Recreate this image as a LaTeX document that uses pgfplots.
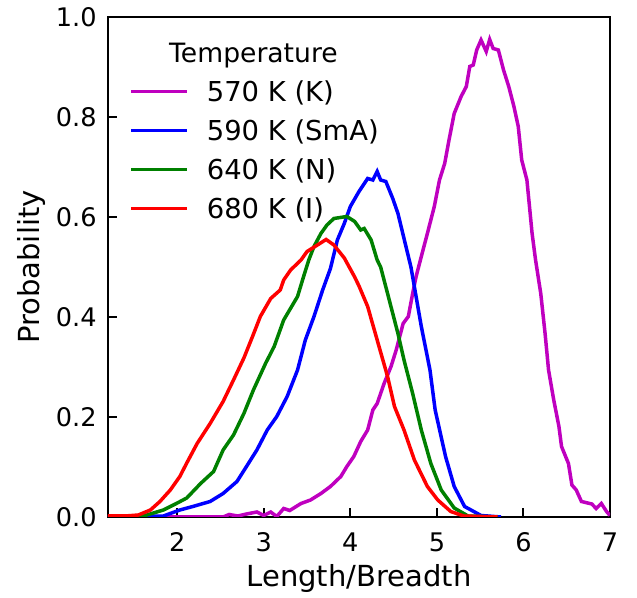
\documentclass[border=0pt]{standalone}
\usepackage{fontspec}
\setmainfont{DejaVu Sans}
\usepackage{pgfplots}
\pgfplotsset{compat=1.18}
\definecolor{mpm}{RGB}{191,0,191}
\definecolor{mpg}{RGB}{0,128,0}
\begin{document}
\begin{tikzpicture}
\begin{axis}[
  scale only axis, width=251pt, height=250pt,
  xmin=1.2, xmax=7, ymin=0, ymax=1,
  xtick={2,3,4,5,6,7}, ytick={0,0.2,0.4,0.6,0.8,1.0},
  /pgf/number format/assume math mode=true,
  tick align=inside, xtick pos=bottom, ytick pos=left,
  major tick length=4.5pt,
  tick style={black, line width=1pt},
  axis line style={line width=1pt},
  ticklabel style={font=\fontsize{12.8}{15}\selectfont, inner sep=0pt},
  xticklabel style={anchor=north, yshift=-7.5pt},
  yticklabel style={anchor=east, xshift=-5.5pt, /pgf/number format/fixed, /pgf/number format/fixed zerofill, /pgf/number format/precision=1},
  xlabel={Length/Breadth}, ylabel={Probability},
  label style={font=\fontsize{14.5}{17}\selectfont, inner sep=0pt},
  xlabel style={at={(rel axis cs:0.5,0)}, anchor=north, yshift=-23.5pt},
  ylabel style={at={(rel axis cs:-0.1365,0.5)}, anchor=base},
  legend cell align=left,
  legend style={at={(rel axis cs:0.0418,0.872)}, anchor=north west, draw=none, fill=none,
    inner sep=0pt, row sep=9.51pt, column sep=9pt,
    cells={anchor=west},
    nodes={inner sep=0pt, text height=9.99pt, text depth=0pt},
    font=\fontsize{13.7}{16.5}\selectfont},
  legend image code/.code={\draw[#1,line width=1.75pt] (0pt,0pt) -- (28pt,0pt);},
  every axis plot/.append style={line width=1.75pt},
]
\addplot[mpm] coordinates {(1.2,0)(2.53,0)(2.6,0.005)(2.7,0.002)(2.8,0.006)(2.92,0.01)(3.0,0.003)(3.08,0.01)(3.15,0.001)(3.23,0.017)(3.3,0.013)(3.43,0.027)(3.54,0.034)(3.66,0.047)(3.77,0.061)(3.89,0.081)(3.96,0.101)(4.04,0.121)(4.12,0.151)(4.20,0.174)(4.26,0.214)(4.31,0.227)(4.39,0.267)(4.47,0.301)(4.53,0.334)(4.61,0.387)(4.67,0.401)(4.72,0.447)(4.76,0.481)(4.82,0.521)(4.89,0.567)(4.97,0.621)(5.03,0.674)(5.09,0.707)(5.14,0.754)(5.20,0.807)(5.28,0.841)(5.34,0.861)(5.38,0.901)(5.42,0.904)(5.46,0.934)(5.51,0.954)(5.57,0.931)(5.61,0.955)(5.65,0.937)(5.71,0.934)(5.77,0.894)(5.83,0.861)(5.89,0.821)(5.94,0.781)(5.98,0.714)(6.04,0.674)(6.10,0.567)(6.14,0.514)(6.20,0.447)(6.25,0.367)(6.29,0.294)(6.35,0.234)(6.41,0.181)(6.44,0.141)(6.52,0.107)(6.56,0.064)(6.61,0.054)(6.67,0.031)(6.79,0.026)(6.84,0.017)(6.90,0.027)(6.96,0.011)(7.0,0.003)};
\addlegendentry{570 K (K)}
\addplot[blue] coordinates {(1.2,0)(1.84,0.002)(2.03,0.014)(2.18,0.021)(2.38,0.031)(2.53,0.047)(2.69,0.071)(2.80,0.101)(2.92,0.134)(3.04,0.174)(3.15,0.201)(3.27,0.241)(3.39,0.294)(3.48,0.354)(3.58,0.401)(3.68,0.454)(3.77,0.497)(3.85,0.554)(3.93,0.587)(4.00,0.621)(4.10,0.651)(4.20,0.677)(4.26,0.674)(4.31,0.691)(4.35,0.674)(4.41,0.671)(4.49,0.637)(4.55,0.607)(4.62,0.557)(4.70,0.50)(4.82,0.381)(4.92,0.294)(4.98,0.214)(5.10,0.121)(5.20,0.061)(5.32,0.021)(5.51,0.003)(5.74,0)};
\addlegendentry{590 K (SmA)}
\addplot[mpg] coordinates {(1.2,0)(1.61,0.002)(1.84,0.014)(1.99,0.027)(2.11,0.038)(2.27,0.067)(2.42,0.091)(2.53,0.134)(2.65,0.164)(2.77,0.207)(2.88,0.254)(3.02,0.307)(3.12,0.341)(3.23,0.394)(3.39,0.441)(3.46,0.481)(3.52,0.514)(3.58,0.541)(3.66,0.567)(3.73,0.584)(3.81,0.597)(3.96,0.601)(4.05,0.591)(4.12,0.574)(4.16,0.577)(4.24,0.554)(4.31,0.514)(4.35,0.50)(4.43,0.447)(4.55,0.367)(4.62,0.314)(4.72,0.247)(4.82,0.174)(4.93,0.107)(5.05,0.054)(5.20,0.018)(5.36,0.002)(5.7,0)};
\addlegendentry{640 K (N)}
\addplot[red] coordinates {(1.2,0.002)(1.4,0.002)(1.55,0.004)(1.69,0.014)(1.80,0.031)(1.92,0.054)(2.03,0.081)(2.11,0.108)(2.23,0.147)(2.38,0.187)(2.53,0.231)(2.65,0.274)(2.77,0.318)(2.87,0.361)(2.96,0.401)(3.08,0.437)(3.19,0.454)(3.23,0.474)(3.31,0.494)(3.43,0.514)(3.50,0.531)(3.62,0.544)(3.72,0.555)(3.81,0.544)(3.93,0.518)(4.05,0.480)(4.10,0.462)(4.20,0.421)(4.31,0.354)(4.43,0.281)(4.51,0.221)(4.62,0.174)(4.74,0.114)(4.89,0.061)(5.01,0.034)(5.16,0.011)(5.31,0.002)(5.7,0)};
\addlegendentry{680 K (I)}
\node[anchor=base, inner sep=0pt, font=\fontsize{13.3}{16}\selectfont] at (rel axis cs:0.2898,0.9086) {Temperature};
\end{axis}
\pgfresetboundingbox
\path (-54pt,-40.5pt) rectangle (264.5pt,258.5pt);
\end{tikzpicture}
\end{document}
